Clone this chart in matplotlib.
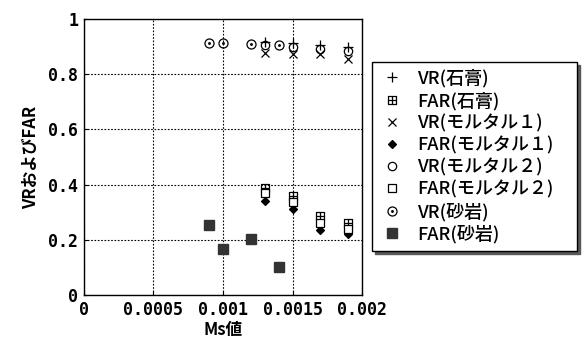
import numpy as np
import matplotlib
matplotlib.use("Agg")
import matplotlib.pyplot as plt
from matplotlib.path import Path

plt.rcParams['font.family'] = ['Noto Sans CJK JP', 'DejaVu Sans']

# --- data ---
ms_gypsum = [0.0013, 0.0015, 0.0017, 0.0019]
vr_gypsum = [0.917, 0.915, 0.905, 0.900]
far_gypsum = [0.389, 0.360, 0.285, 0.262]

ms_mortar1 = [0.0013, 0.0015, 0.0017, 0.0019]
vr_mortar1 = [0.876, 0.873, 0.873, 0.857]
far_mortar1 = [0.339, 0.312, 0.236, 0.222]

ms_mortar2 = [0.0013, 0.0015, 0.0017, 0.0019]
vr_mortar2 = [0.905, 0.900, 0.893, 0.885]
far_mortar2 = [0.371, 0.338, 0.262, 0.240]

ms_sand = [0.0009, 0.0010, 0.0012, 0.0014]
vr_sand = [0.913, 0.912, 0.909, 0.905]
far_sand = [0.252, 0.165, 0.202, 0.102]

xticks = [0, 0.0005, 0.001, 0.0015, 0.002]
xticklabels = ['0', '0.0005', '0.001', '0.0015', '0.002']
yticks = [0, 0.2, 0.4, 0.6, 0.8, 1.0]
yticklabels = ['0', '0.2', '0.4', '0.6', '0.8', '1']

# square with a cross inside (grid square marker)
box_verts = [(-1, -1), (1, -1), (1, 1), (-1, 1), (-1, -1),
             (0, -1), (0, 1), (-1, 0), (1, 0)]
box_codes = [Path.MOVETO, Path.LINETO, Path.LINETO, Path.LINETO, Path.CLOSEPOLY,
             Path.MOVETO, Path.LINETO, Path.MOVETO, Path.LINETO]
grid_box = Path(box_verts, box_codes)

# circle with a dot in the middle
dot = Path.circle((0, 0), 0.18)
odot = Path.make_compound_path(Path.unit_circle(), dot)

fig = plt.figure(figsize=(5.83, 3.41), dpi=100)
ax = fig.add_axes([0.144, 0.135, 0.477, 0.809])

kw = dict(linestyle='none', color='black', markeredgewidth=0.9)
ax.plot(ms_gypsum, vr_gypsum, marker='+', markersize=7, label='VR(石膏)', **kw)
ax.plot(ms_gypsum, far_gypsum, marker=grid_box, markersize=6, markerfacecolor='none',
        label='FAR(石膏)', **kw)
ax.plot(ms_mortar1, vr_mortar1, marker='x', markersize=6, label='VR(モルタル１)', **kw)
ax.plot(ms_mortar1, far_mortar1, marker='D', markersize=4.5, label='FAR(モルタル１)', **kw)
ax.plot(ms_mortar2, vr_mortar2, marker='o', markersize=6, markerfacecolor='none',
        label='VR(モルタル２)', **kw)
ax.plot(ms_mortar2, far_mortar2, marker='s', markersize=6, markerfacecolor='white',
        label='FAR(モルタル２)', **kw)
ax.plot(ms_sand, vr_sand, marker=odot, markersize=6.5, markerfacecolor='none',
        label='VR(砂岩)', **kw)
ax.plot(ms_sand, far_sand, marker='s', markersize=7, color='#333333', linestyle='none',
        label='FAR(砂岩)')

ax.set_xlim(0, 0.002)
ax.set_ylim(0, 1)
ax.set_xticks(xticks)
ax.set_xticklabels(xticklabels)
ax.set_yticks(yticks)
ax.set_yticklabels(yticklabels)
ax.tick_params(direction='in', length=3, labelsize=12, pad=4)
for lab in ax.get_xticklabels() + ax.get_yticklabels():
    lab.set_family('DejaVu Sans Mono')
    lab.set_weight('bold')
ax.grid(True, linestyle=(0, (1.5, 1.5)), color='black', linewidth=0.8)
for s in ax.spines.values():
    s.set_linewidth(1.0)

ax.set_xlabel('Ms値', fontsize=12, fontweight='bold', labelpad=2)
ax.set_ylabel('VRおよびFAR', fontsize=12, fontweight='bold', labelpad=6)

leg_x0, leg_y1 = 372 / 583, 1 - 62 / 341
leg_w = 205 / 583
leg = fig.legend(loc='upper left', bbox_to_anchor=(leg_x0, leg_y1 - 0.01, leg_w, 0.01),
                 mode='expand', prop={'size': 13, 'weight': 'medium'},
                 frameon=True, fancybox=False, edgecolor='black',
                 handlelength=1.4, handletextpad=0.7, labelspacing=0.22,
                 borderpad=0.4, borderaxespad=0,
                 shadow={'color': '0.35', 'alpha': 1})
leg.get_frame().set_linewidth(1.0)

fig.savefig('out.png', dpi=100)
